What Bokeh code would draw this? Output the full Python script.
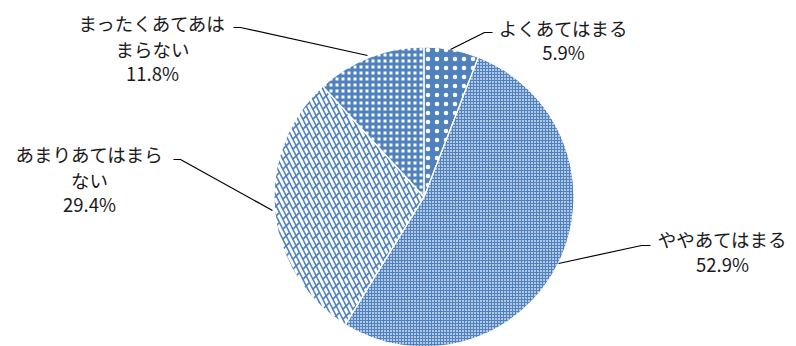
import math
from bokeh.plotting import figure
from bokeh.models import Range1d
from bokeh.core.properties import value
from bokeh.embed import file_html
from bokeh.resources import INLINE

# ---- data ----
categories = ["よくあてはまる", "ややあてはまる", "あまりあてはまらない", "まったくあてあはまらない"]
percent = [5.9, 52.9, 29.4, 11.8]
label_lines = [
    ["よくあてはまる", "5.9%"],
    ["ややあてはまる", "52.9%"],
    ["あまりあてはまら", "ない", "29.4%"],
    ["まったくあてあは", "まらない", "11.8%"],
]

BLUE = "#4F81BD"
W, H = 796, 346
PH = 346  # y flipped: y = PH - py

p = figure(width=W, height=H, output_backend="svg", toolbar_location=None,
           x_axis_type=None, y_axis_type=None, min_border=0,
           x_range=Range1d(0, W), y_range=Range1d(PH - H, PH))
p.grid.visible = False
p.outline_line_color = None
p.background_fill_color = "white"

cx, cy, r = 423.5, PH - 196.5, 150

total = sum(percent)
angles = []
a = math.pi / 2
for v in percent:
    da = 2 * math.pi * v / total
    angles.append((a - da, a))  # clockwise from top
    a -= da

styles = [
    [dict(fill_color=BLUE, hatch_pattern="dot", hatch_color="white", hatch_scale=9, hatch_weight=1)],
    [dict(fill_color="#b3c8e4", hatch_pattern="cross", hatch_color=BLUE, hatch_scale=3, hatch_weight=1)],
    [dict(fill_color="white", hatch_pattern="left_diagonal_line", hatch_color=BLUE, hatch_scale=10, hatch_weight=1.6),
     dict(fill_color=None, hatch_pattern="right_diagonal_dash", hatch_color=BLUE, hatch_scale=10, hatch_weight=1.6)],
    [dict(fill_color="white", hatch_pattern="cross", hatch_color=BLUE, hatch_scale=6, hatch_weight=3)],
]

for (s, e), sts in zip(angles, styles):
    for st in sts:
        p.wedge(x=cx, y=cy, radius=r, start_angle=s, end_angle=e,
                line_color=None, **st)
for s, e in angles:
    p.wedge(x=cx, y=cy, radius=r, start_angle=s, end_angle=e,
            fill_color=None, line_color="white", line_width=1.2)

# labels (pixel positions in the reference picture)
FONT = value("Noto Sans CJK JP")
label_pos = [(563, [27, 51]), (722, [238, 263]), (89, [153, 179, 203]), (152, [22, 48, 72])]
for lines, (lx, ys) in zip(label_lines, label_pos):
    p.text(x=[lx] * len(lines), y=[PH - y for y in ys], text=lines,
           text_font=FONT, text_font_size="18.5px", text_color="#1a1a1a",
           text_align="center", text_baseline="middle")

# leader lines
leaders = [
    ([450, 484, 492], [49, 32, 32]),
    ([558, 641, 650], [263, 245, 245]),
    ([272, 180, 173], [210, 159, 159]),
    ([367, 240, 233], [55, 27, 27]),
]
for xs, ys in leaders:
    p.line(x=xs, y=[PH - y for y in ys], line_color="black", line_width=1.2)

open("out.html", "w").write(file_html(p, INLINE))
